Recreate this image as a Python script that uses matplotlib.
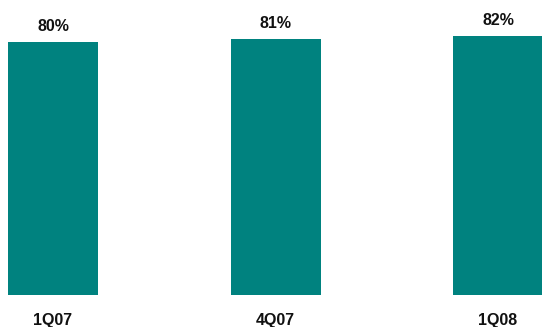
import matplotlib
matplotlib.use("Agg")
import matplotlib.pyplot as plt
from matplotlib import font_manager as fm

categories = ["1Q07", "4Q07", "1Q08"]
values = [80, 81, 82]
labels = ["80%", "81%", "82%"]

W, H = 542, 327
fig = plt.figure(figsize=(W / 100, H / 100), dpi=100)
bottom_px = 32
ax = fig.add_axes([0, bottom_px / H, 1, 1 - bottom_px / H])
ax.set_axis_off()

spacing = 222.5
x0 = 53
ax.set_xlim(-x0 / spacing, (W - x0) / spacing)
ax.set_ylim(0, (H - bottom_px) / 3.16)

xs = list(range(len(categories)))
ax.bar(xs, values, width=90 / spacing, color="#00827F", edgecolor="none")

fp = None
for f in fm.fontManager.ttflist:
    if f.name == "Liberation Sans" and f.weight in (700, "bold") and f.style == "normal" \
            and "Narrow" not in f.fname:
        fp = fm.FontProperties(fname=f.fname, size=11.5)
        break
if fp is None:
    fp = fm.FontProperties(family="DejaVu Sans", weight="bold", size=11)

for x, v, lab in zip(xs, values, labels):
    ax.annotate(lab, (x, v), xytext=(0, 6), textcoords="offset points",
                ha="center", va="bottom", color="#111111", fontproperties=fp)

for x, c in zip(xs, categories):
    ax.annotate(c, (x, 0), xytext=(0, -18), textcoords="offset points",
                ha="center", va="center", color="#111111", annotation_clip=False,
                fontproperties=fp)

fig.savefig("out.png", dpi=100)
